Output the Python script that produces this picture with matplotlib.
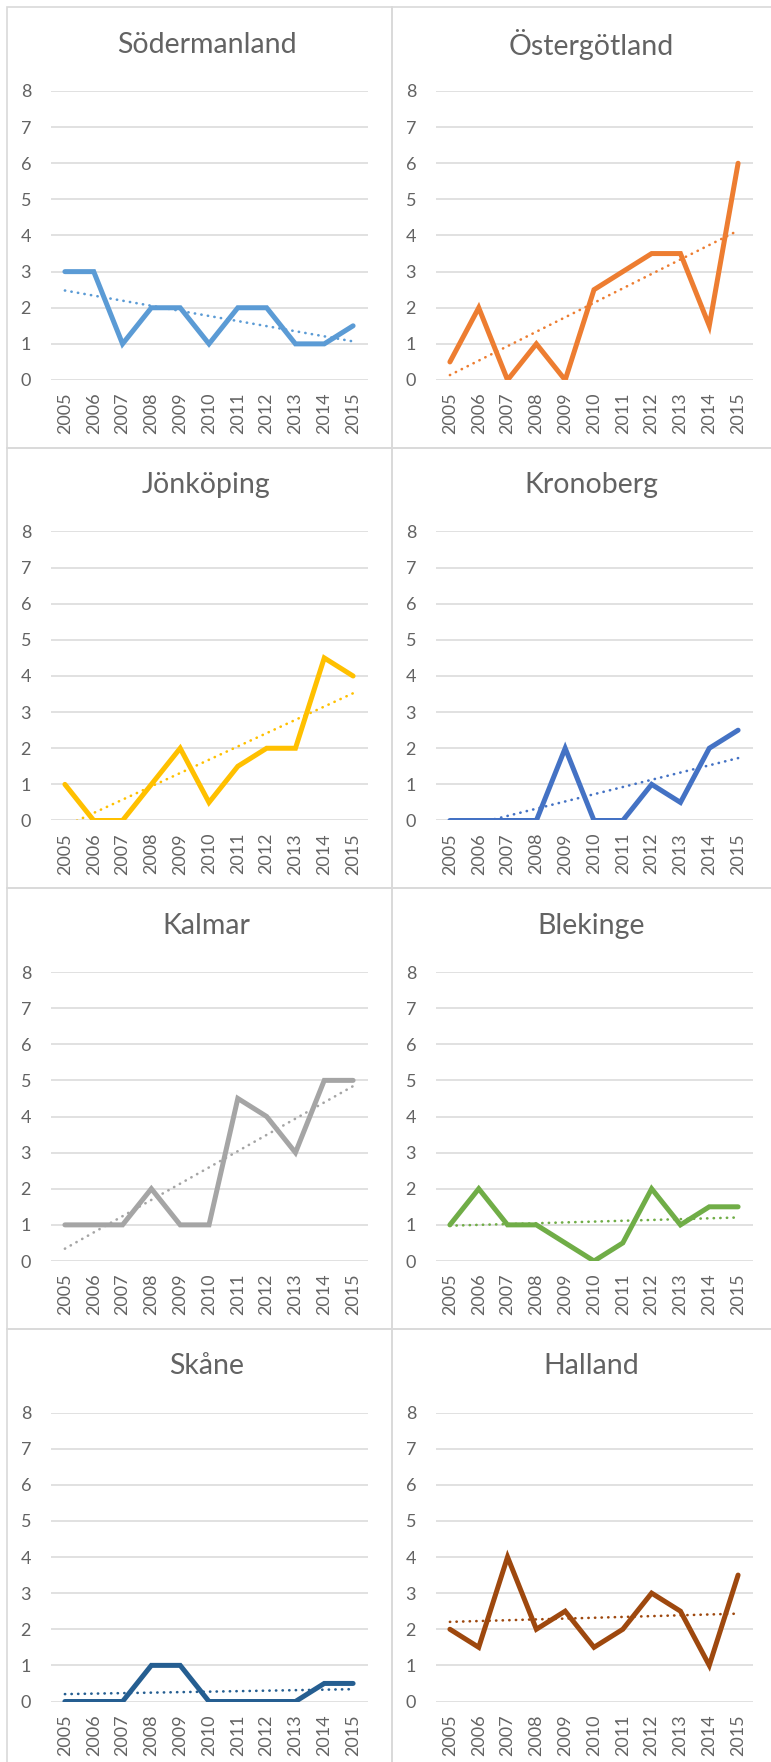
import numpy as np
import matplotlib
matplotlib.use("Agg")
import matplotlib.pyplot as plt
from matplotlib.patches import Rectangle

plt.rcParams['font.family'] = ['Lato', 'DejaVu Sans']

years = ['2005', '2006', '2007', '2008', '2009', '2010',
         '2011', '2012', '2013', '2014', '2015']

regions = ['Södermanland', 'Östergötland', 'Jönköping', 'Kronoberg',
           'Kalmar', 'Blekinge', 'Skåne', 'Halland']

sodermanland = [3, 3, 1, 2, 2, 1, 2, 2, 1, 1, 1.5]
ostergotland = [0.5, 2, 0, 1, 0, 2.5, 3, 3.5, 3.5, 1.5, 6]
jonkoping = [1, 0, 0, 1, 2, 0.5, 1.5, 2, 2, 4.5, 4]
kronoberg = [0, 0, 0, 0, 2, 0, 0, 1, 0.5, 2, 2.5]
kalmar = [1, 1, 1, 2, 1, 1, 4.5, 4, 3, 5, 5]
blekinge = [1, 2, 1, 1, 0.5, 0, 0.5, 2, 1, 1.5, 1.5]
skane = [0, 0, 0, 1, 1, 0, 0, 0, 0, 0.5, 0.5]
halland = [2, 1.5, 4, 2, 2.5, 1.5, 2, 3, 2.5, 1, 3.5]

series = [sodermanland, ostergotland, jonkoping, kronoberg,
          kalmar, blekinge, skane, halland]
colors = ['#5B9BD5', '#ED7D31', '#FFC000', '#4472C4',
          '#A5A5A5', '#70AD47', '#255E91', '#9E480E']

W, H = 771, 1762
fig = plt.figure(figsize=(W / 100, H / 100), dpi=100)

panel_w, panel_h = 385, 440.5
x0, y0 = 7, 7
text_col = '#636363'
grid_col = '#D9D9D9'

x = np.arange(len(years))

for i, (name, vals, col) in enumerate(zip(regions, series, colors)):
    r, c = divmod(i, 2)
    pl = x0 + c * panel_w
    pt = y0 + r * panel_h

    # panel border
    fig.patches.append(Rectangle((pl / W, 1 - (pt + panel_h) / H),
                                 panel_w / W, panel_h / H,
                                 transform=fig.transFigure, fill=False,
                                 edgecolor=grid_col, lw=1.2, zorder=0))

    ax = fig.add_axes([(pl + 43.5) / W, 1 - (pt + 373) / H, 317 / W, 289 / H])
    ax.plot(x, vals, color=col, lw=3.6, solid_capstyle='round',
            solid_joinstyle='miter', zorder=3)

    # linear trendline like Excel
    k, m = np.polyfit(x, vals, 1)
    ax.plot(x, k * x + m, color=col, lw=1.9, linestyle=(0, (0.1, 2.4)),
            dash_capstyle='round', zorder=4)

    ax.set_xlim(-0.5, 10.5)
    ax.set_ylim(0, 8)
    ax.set_yticks(range(9))
    ax.set_xticks(x)
    ax.set_xticklabels(years, rotation=90)
    ax.yaxis.grid(True, color=grid_col, lw=1.1)
    ax.set_axisbelow(True)
    for s in ax.spines.values():
        s.set_visible(False)
    ax.tick_params(axis='both', length=0, labelsize=13, colors=text_col)
    ax.tick_params(axis='y', pad=14)
    ax.tick_params(axis='x', pad=9)

    fig.text((pl + panel_w / 2 + 7) / W, 1 - (pt + 38) / H, name,
             ha='center', va='center', fontsize=20.5, color=text_col)

fig.savefig('out.png', dpi=100)
